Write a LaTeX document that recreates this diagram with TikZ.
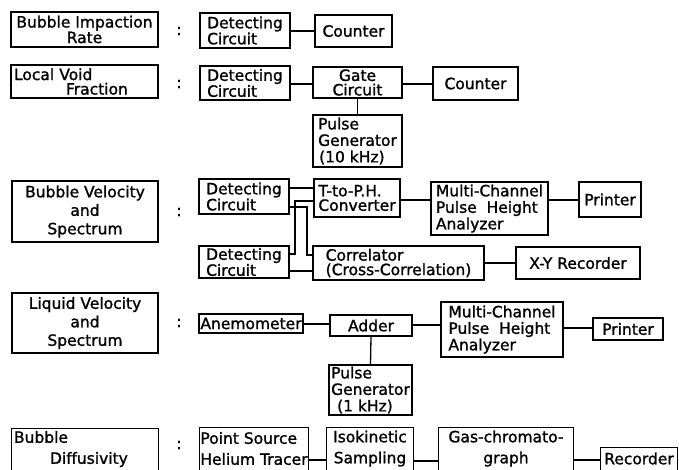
\documentclass[tikz,border=0pt]{standalone}
\usepackage{fontspec}
\setmainfont{DejaVu Sans}
\newfontfamily\labfont{DejaVu Sans}[FakeBold=1.3]
\newcommand\mybox[7][]{\node[bx,minimum width={(#5-#3)*1pt},minimum height={(#6-#4)*1pt},#1] (#2) at ({(#3+#5)/2},{(#4+#6)/2}) {#7};}
\newcommand\openbottom[1]{\draw[ln] (#1.south west) |- (#1.north east) -- (#1.south east);}
\begin{document}
\begin{tikzpicture}[x=1pt,y=-1pt,
  bx/.style={draw,line width=1.3pt,inner sep=0pt,align=center,font=\labfont\fontsize{15.5}{14.5}\selectfont},
  nob/.style={draw=none},
  three/.style={font=\labfont\fontsize{15.5}{16.5}\selectfont},
  tall/.style={font=\labfont\fontsize{15.5}{18.5}\selectfont},
  low/.style={font=\labfont\fontsize{15.5}{21}\selectfont},
  ln/.style={line width=1.3pt},
  colon/.style={inner sep=0pt,font=\labfont\fontsize{15.5}{14.5}\selectfont}]
\clip (0,0) rectangle (679,469);
% labels
\mybox{l1}{11}{12}{158}{47}{Bubble Impaction\\Rate}
\mybox[align=left,text width=141pt]{l2}{11}{65}{158}{98}{Local Void\\\hspace*{52pt}Fraction}
\mybox[tall]{l3}{12}{181}{158}{242}{Bubble Velocity\\and\\Spectrum}
\mybox[tall]{l4}{12}{293}{158}{353}{Liquid Velocity\\and\\Spectrum}
\mybox[nob,low,align=left,text width=142pt]{l5}{12}{429}{158}{469}{Bubble\\\hspace*{36pt}Diffusivity}
% colons
\node[colon] (c1) at (179,31) {:};
\node[colon] (c2) at (179,84) {:};
\node[colon] (c3) at (179,212) {:};
\node[colon] (c4) at (179,323) {:};
\node[colon] (c5) at (179,445) {:};
% row 1
\mybox[align=left]{dc1}{200}{13}{290}{48}{Detecting\\Circuit}
\mybox{cnt1}{315}{15}{392}{47}{Counter}
% row 2
\mybox[align=left]{dc2}{200}{66}{290}{100}{Detecting\\Circuit}
\mybox{gate}{313}{67}{402}{98}{Gate\\Circuit}
\mybox{cnt2}{433}{67}{518}{100}{Counter}
\mybox[three,align=left]{pg1}{313}{115}{402}{167}{Pulse\\Generator\\\hspace*{1pt}(10 kHz)}
% row 3
\mybox[align=left]{dc3a}{199}{179}{289}{214}{Detecting\\Circuit}
\mybox[align=left]{dc3b}{199}{246}{289}{278}{Detecting\\Circuit}
\mybox[align=left]{tph}{314}{179}{400}{217}{T-to-P.H.\\Converter}
\mybox[three,align=left]{mca1}{431}{182}{548}{235}{Multi-Channel\\Pulse\ \ Height\\Analyzer}
\mybox{pr1}{579}{182}{641}{217}{Printer}
\mybox[align=left]{corr}{313}{246}{484}{280}{Correlator\\(Cross-Correlation)}
\mybox{xy}{516}{247}{640}{279}{X-Y Recorder}
% row 4
\mybox{anem}{199}{314}{303}{333}{Anemometer}
\mybox{add}{330}{315}{412}{336}{Adder}
\mybox[three,align=left]{mca2}{441}{302}{563}{357}{Multi-Channel\\Pulse\ \ Height\\Analyzer}
\mybox{pr2}{593}{318}{663}{340}{Printer}
\mybox[three,align=left]{pg2}{329}{365}{412}{415}{Pulse\\Generator\\\hspace*{6pt}(1 kHz)}
% row 5 (cut by the lower edge)
\mybox[nob,low,align=left]{ps}{201}{428}{307}{469}{Point Source\\Helium Tracer}
\mybox[nob,low]{iso}{327}{428}{413}{469}{Isokinetic\\Sampling}
\mybox[nob,low]{gas}{439}{428}{573}{469}{Gas-chromato-\\graph}
\mybox[nob]{rec}{601}{448}{677}{469}{Recorder}
\openbottom{l5}
\openbottom{ps}
\openbottom{iso}
\openbottom{gas}
\openbottom{rec}
% connectors
\draw[ln] (dc1.east |- 0,31) -- (cnt1.west |- 0,31);
\draw[ln] (dc2.east |- 0,84) -- (gate.west |- 0,84);
\draw[ln] (gate.east |- 0,84) -- (cnt2.west |- 0,84);
\draw[ln] (gate.south) -- (pg1.north);
\draw[ln] (dc3a.east |- 0,188) -- (tph.west |- 0,188);
\draw[ln] (dc3a.east |- 0,207) -- (307,207) -- (307,255) -- (corr.west |- 0,255);
\draw[ln] (dc3b.east |- 0,254) -- (295,254) -- (295,201) -- (tph.west |- 0,201);
\draw[ln] (dc3b.east |- 0,271) -- (corr.west |- 0,271);
\draw[ln] (tph.east |- 0,200) -- (mca1.west |- 0,200);
\draw[ln] (mca1.east |- 0,200) -- (pr1.west |- 0,200);
\draw[ln] (corr.east |- 0,263) -- (xy.west |- 0,263);
\draw[ln] (anem.east |- 0,324) -- (add.west |- 0,324);
\draw[ln] (add.east |- 0,325) -- (mca2.west |- 0,325);
\draw[ln] (mca2.east |- 0,328) -- (pr2.west |- 0,328);
\draw[ln] (add.south) -- (pg2.north);
\draw[ln] (ps.east |- 0,460) -- (iso.west |- 0,460);
\draw[ln] (iso.east |- 0,461) -- (gas.west |- 0,461);
\draw[ln] (gas.east |- 0,460) -- (rec.west |- 0,460);
\end{tikzpicture}
\end{document}
